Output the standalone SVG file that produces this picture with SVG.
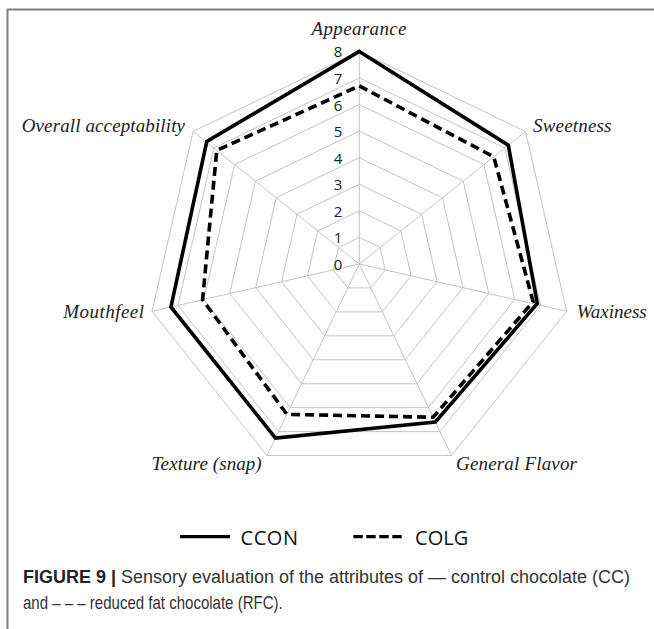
<svg xmlns="http://www.w3.org/2000/svg" width="654" height="629" viewBox="0 0 654 629">
<style>
.grid{fill:none;stroke:#c4c4c4;stroke-width:1}
.ax{font-family:"Liberation Serif",serif;font-style:italic;font-size:19px;fill:#222}
.num{font-family:"Open Sans","Liberation Sans",sans-serif;font-size:15px;fill:#222;text-anchor:middle;dominant-baseline:central}
.ccon{fill:none;stroke:#000;stroke-width:3.6;stroke-linejoin:miter}
.colg{fill:none;stroke:#000;stroke-width:3.6;stroke-dasharray:9 5}
.leg{font-family:"Open Sans","Liberation Sans",sans-serif;font-size:20px;fill:#111}
.cap{font-family:"Liberation Sans",Arial,sans-serif;font-size:18px;fill:#333}
</style>
<rect width="654" height="629" fill="#fff"/>
<path d="M7.5 629 V9.5 H654" fill="none" stroke="#7f7f7f" stroke-width="2"/>
<g id="grid">
<polygon class="grid" points="359.3,237.43 380.08,247.43 385.21,269.91 370.83,287.94 347.77,287.94 333.39,269.91 338.52,247.43"/>
<polygon class="grid" points="359.3,210.85 400.85,230.86 411.12,275.83 382.36,311.89 336.24,311.89 307.48,275.83 317.75,230.86"/>
<polygon class="grid" points="359.3,184.28 421.63,214.29 437.03,281.74 393.89,335.83 324.71,335.83 281.57,281.74 296.97,214.29"/>
<polygon class="grid" points="359.3,157.7 442.41,197.72 462.94,287.65 405.42,359.77 313.18,359.77 255.67,287.65 276.19,197.72"/>
<polygon class="grid" points="359.3,131.13 463.19,181.15 488.84,293.57 416.95,383.72 301.65,383.72 229.76,293.57 255.41,181.15"/>
<polygon class="grid" points="359.3,104.55 483.96,164.59 514.75,299.48 428.48,407.66 290.12,407.66 203.85,299.48 234.64,164.59"/>
<polygon class="grid" points="359.3,77.98 504.74,148.02 540.66,305.39 440.01,431.6 278.59,431.6 177.94,305.39 213.86,148.02"/>
<polygon class="grid" points="359.3,51.4 525.52,131.45 566.57,311.31 451.54,455.55 267.06,455.55 152.03,311.31 193.08,131.45"/>
<path class="grid" d="M359.3 264 L359.3 51.4 M359.3 264 L525.52 131.45 M359.3 264 L566.57 311.31 M359.3 264 L451.54 455.55 M359.3 264 L267.06 455.55 M359.3 264 L152.03 311.31 M359.3 264 L193.08 131.45"/>
</g>
<g id="scale">
<text class="num" x="338" y="264">0</text>
<text class="num" x="338" y="237.4">1</text>
<text class="num" x="338" y="210.9">2</text>
<text class="num" x="338" y="184.3">3</text>
<text class="num" x="338" y="157.7">4</text>
<text class="num" x="338" y="131.1">5</text>
<text class="num" x="338" y="104.6">6</text>
<text class="num" x="338" y="78">7</text>
<text class="num" x="338" y="51.4">8</text>
</g>
<g id="labels">
<text class="ax" x="311.5" y="35" textLength="95">Appearance</text>
<text class="ax" x="533" y="131.7" textLength="78.5">Sweetness</text>
<text class="ax" x="576.7" y="318" textLength="70">Waxiness</text>
<text class="ax" x="456" y="470" textLength="121">General Flavor</text>
<text class="ax" x="151.7" y="470" textLength="110">Texture (snap)</text>
<text class="ax" x="63.3" y="318.3" textLength="80.7">Mouthfeel</text>
<text class="ax" x="21.7" y="131.7" textLength="163.3">Overall acceptability</text>
</g>
<g id="series">
<polygon id="CCON" class="ccon" points="359.3,51.4 508.28,145.19 537.3,303.5 435.4,422.03 275.47,438.07 170.94,306.99 206.8,141.4"/>
<polygon id="COLG" class="colg" points="359.3,85.95 493.73,156.8 533.15,301.7 433.09,417.24 286.89,414.36 202.55,299.78 216.77,150.34"/>
</g>
<g id="legend">
<line x1="180" y1="536.7" x2="230" y2="536.7" stroke="#000" stroke-width="3.2"/>
<text class="leg" x="240.5" y="545" textLength="57.5">CCON</text>
<line x1="353.3" y1="536.7" x2="401.7" y2="536.7" stroke="#000" stroke-width="3.2" stroke-dasharray="9.4 3.6"/>
<text class="leg" x="415" y="545" textLength="53.3">COLG</text>
</g>
<g id="caption">
<text class="cap" x="23" y="583" textLength="607" lengthAdjust="spacingAndGlyphs"><tspan font-weight="bold" fill="#222">FIGURE 9 |</tspan> Sensory evaluation of the attributes of — control chocolate (CC)</text>
<text class="cap" transform="translate(23 608.5) scale(0.86 1)" x="0" y="0" textLength="302" lengthAdjust="spacingAndGlyphs">and – – – reduced fat chocolate (RFC).</text>
</g>
</svg>
